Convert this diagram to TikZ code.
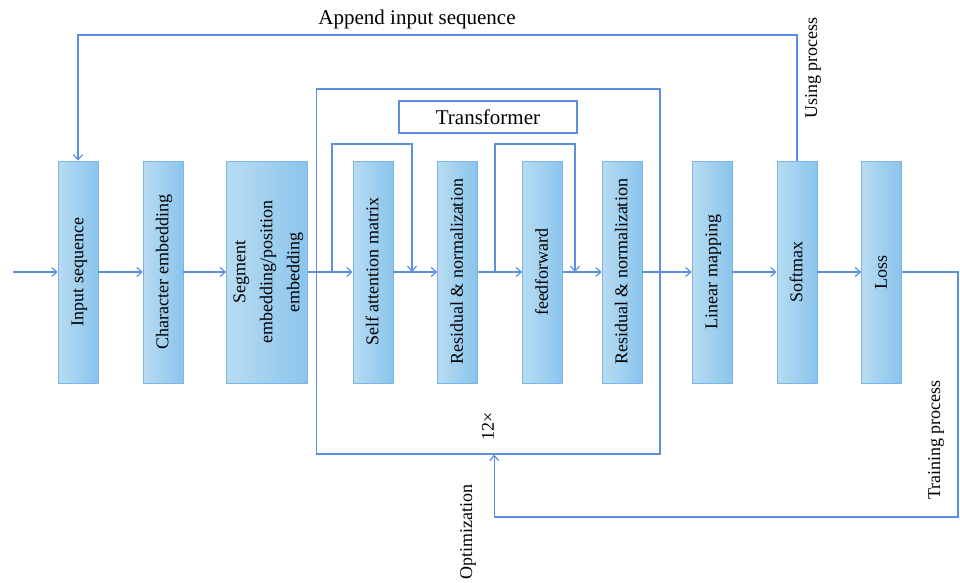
\documentclass[tikz,border=0pt]{standalone}
\usepackage{fontspec}
\setmainfont{Liberation Serif}
\usetikzlibrary{arrows.meta}
\definecolor{linkblue}{RGB}{92,142,228}
\definecolor{boxedge}{RGB}{122,182,232}
\definecolor{boxlight}{RGB}{184,220,242}
\definecolor{boxdark}{RGB}{138,196,236}
\newcommand{\boxfont}{\fontsize{18}{27}\selectfont}
\newcommand{\vtext}[1]{\rotatebox{90}{\begin{tabular}{@{}c@{}}#1\end{tabular}}}
\tikzset{
  stage/.style={draw=boxedge, line width=0.8pt, left color=boxlight, right color=boxdark,
    minimum width=40pt, minimum height=222pt, inner sep=0pt, font=\boxfont},
  link/.style={draw=linkblue, line width=1.3pt},
  flow/.style={link, -{Straight Barb[length=5pt,width=9pt,line width=1.2pt]}},
  frame/.style={draw=linkblue, line width=1.3pt, inner sep=0pt},
  lbl/.style={font=\boxfont, inner sep=0pt},
  biglbl/.style={font=\fontsize{21}{25}\selectfont, inner sep=0pt}
}
\begin{document}
\begin{tikzpicture}[x=1pt,y=-1pt]
\useasboundingbox (0,0) rectangle (960,582);

% outer Transformer block and its title
\node[frame, minimum width=343.5pt, minimum height=365pt] (block) at (488.25,271.5) {};
\node[frame, fill=white, minimum width=178pt, minimum height=32pt, biglbl] (title) at (488,117) {Transformer};
\node[lbl, rotate=90] (rep) at (488,426) {12\texttimes};

% processing stages
\node[stage] (inp)  at (78,272)    {\vtext{Input sequence}};
\node[stage] (chr)  at (163,272)   {\vtext{Character embedding}};
\node[stage, minimum width=80pt] (seg) at (267,272) {\vtext{Segment\\embedding/position\\embedding}};
\node[stage] (att)  at (373,272)   {\vtext{Self attention matrix}};
\node[stage] (res1) at (457.5,272) {\vtext{Residual \& normalization}};
\node[stage] (ff)   at (542.5,272) {\vtext{feedforward}};
\node[stage] (res2) at (622,272)   {\vtext{Residual \& normalization}};
\node[stage] (lin)  at (712,272)   {\vtext{Linear mapping}};
\node[stage] (soft) at (797,272)   {\vtext{Softmax}};
\node[stage] (loss) at (881.5,272) {\vtext{Loss}};

% helper points
\coordinate (src) at (13,272);
\coordinate (br1) at (332,272);
\coordinate (jn1) at (412,272);
\coordinate (br2) at (495,272);
\coordinate (jn2) at (575,272);
\coordinate (topy) at (0,35);
\coordinate (trR) at (958,517);

% main chain
\draw[flow] (src) -- (inp);
\draw[flow] (inp) -- (chr);
\draw[flow] (chr) -- (seg);
\draw[flow] (seg) -- (att);
\draw[flow] (att) -- (res1);
\draw[flow] (res1) -- (ff);
\draw[flow] (ff) -- (res2);
\draw[flow] (res2) -- (lin);
\draw[flow] (lin) -- (soft);
\draw[flow] (soft) -- (loss);

% residual skips
\draw[flow] (br1) -- (332,144) -- (412,144) -- (jn1);
\draw[flow] (br2) -- (495,144) -- (575,144) -- (jn2);

% using process: feed prediction back to input
\draw[flow] (soft.north) -- (soft.north |- topy) -- (inp.north |- topy) -- (inp.north);
\node[biglbl] (append) at (417,19) {Append input sequence};
\node[lbl, rotate=90] (using) at (813,68) {Using process};

% training process: loss back to the block
\draw[flow] (loss.east) -- (trR |- loss.east) -- (trR) -- (rep.south |- trR) -- (rep.south |- block.south);
\node[lbl, rotate=90] (train) at (936,440) {Training process};
\node[lbl, rotate=90] (opt) at (468,532) {Optimization};
\end{tikzpicture}
\end{document}
